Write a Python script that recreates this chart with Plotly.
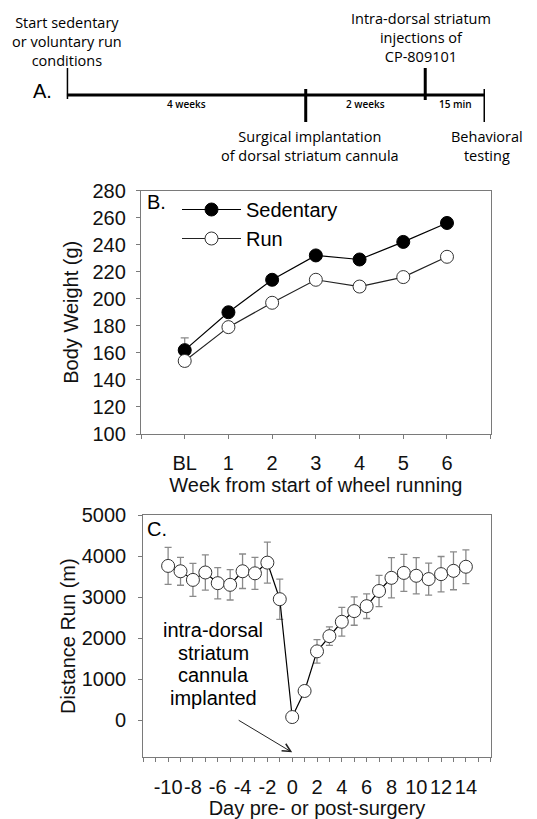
import plotly.graph_objects as go

# page body has an 8px margin, so the figure is drawn 8px in from the window edge
OFF = 8
W, H = 537 - OFF, 819 - OFF

# ---------------- data ----------------
# Panel A: experimental timeline (schematic units)
timeline_events = [
    "Start sedentary<br>or voluntary run<br>conditions",
    "Surgical implantation<br>of dorsal striatum cannula",
    "Intra-dorsal striatum<br>injections of<br>CP-809101",
    "Behavioral<br>testing",
]
timeline_pos = [0, 4, 6, 7]
interval_labels = ["4 weeks", "2 weeks", "15 min"]

# Panel B: body weight
week_labels = ["BL", "1", "2", "3", "4", "5", "6"]
week_pos = [0, 1, 2, 3, 4, 5, 6]
sed_mean = [162, 190, 214, 232, 229, 242, 256]
sed_err = [9, 3, 3, 3, 3, 3, 3]
run_mean = [154, 179, 197, 214, 209, 216, 231]
run_err = [4, 3, 3, 3, 3, 3, 3]

# Panel C: distance run per day
days = [-10, -9, -8, -7, -6, -5, -4, -3, -2, -1,
        0, 1, 2, 3, 4, 5, 6, 7, 8, 9, 10, 11, 12, 13, 14]
dist_mean = [3760, 3630, 3420, 3600, 3340, 3300, 3630, 3580, 3840, 2950,
             80, 715, 1680, 2050, 2400, 2660, 2780, 3150, 3470, 3590,
             3520, 3440, 3560, 3640, 3740]
dist_err = [450, 340, 400, 430, 380, 370, 420, 390, 500, 490,
            0, 60, 285, 225, 350, 345, 300, 380, 490, 450,
            440, 390, 430, 460, 410]
day_ticks = list(range(-12, 17))
day_ticktext = [str(d) if (d % 2 == 0 and -10 <= d <= 14) else "" for d in day_ticks]

# ---------------- styling ----------------
CHART_FONT = "Liberation Sans, Arial, sans-serif"
A_FONT = "Open Sans, Noto Sans, sans-serif"
FS = 20
AX = "#7a7a7a"


def px_x(p):
    return (p - OFF) / W


def px_y(p):
    return 1 - (p - OFF) / H


fig = go.Figure()

# ---- Panel A timeline ----
fig.add_trace(go.Scatter(
    x=[timeline_pos[0], timeline_pos[-1]], y=[-95, -95], mode="lines",
    line=dict(color="black", width=3), xaxis="x3", yaxis="y3",
    showlegend=False, hoverinfo="skip"))
tick_spans = [(-68, -99), (-89, -122), (-68, -100), (-89, -122)]
for p, (y0, y1) in zip(timeline_pos, tick_spans):
    fig.add_trace(go.Scatter(
        x=[p, p], y=[y0, y1], mode="lines",
        line=dict(color="black", width=3), xaxis="x3", yaxis="y3",
        showlegend=False, hoverinfo="skip"))

event_y = [-41, -146, -37, -146]
event_shift = [0, 4, -4, 2]
for txt, p, yy, sh in zip(timeline_events, timeline_pos, event_y, event_shift):
    fig.add_annotation(x=p, y=yy, xref="x3", yref="y3", text=txt,
                       showarrow=False, xanchor="center", yanchor="middle",
                       xshift=sh, align="center",
                       font=dict(family=A_FONT, size=14.5, color="black"))
for i, lab in enumerate(interval_labels):
    mid = (timeline_pos[i] + timeline_pos[i + 1]) / 2
    fig.add_annotation(x=mid, y=-104, xref="x3", yref="y3", text=lab,
                       showarrow=False, xanchor="center", yanchor="middle",
                       font=dict(family=A_FONT, size=10, color="black", weight=600))
fig.add_annotation(x=px_x(42), y=px_y(91), xref="paper", yref="paper",
                   text="A.", showarrow=False, xanchor="center", yanchor="middle",
                   font=dict(family=CHART_FONT, size=FS, color="black"))

# ---- Panel B ----
fig.add_trace(go.Scatter(
    x=week_pos, y=sed_mean, name="Sedentary", mode="lines+markers",
    error_y=dict(type="data", array=sed_err, color="#888", thickness=1.2, width=4),
    line=dict(color="black", width=1.2),
    marker=dict(size=13, color="black", line=dict(color="black", width=1)),
    xaxis="x", yaxis="y"))
fig.add_trace(go.Scatter(
    x=week_pos, y=run_mean, name="Run", mode="lines+markers",
    error_y=dict(type="data", array=run_err, color="#888", thickness=1.2, width=4),
    line=dict(color="#222", width=1.2),
    marker=dict(size=13, color="white", line=dict(color="#333", width=1)),
    xaxis="x", yaxis="y"))
fig.add_annotation(x=px_x(145), y=px_y(202), xref="paper", yref="paper",
                   text="B.", showarrow=False, xanchor="left", yanchor="middle",
                   font=dict(family=CHART_FONT, size=FS, color="black"))

# ---- Panel C ----
fig.add_trace(go.Scatter(
    x=days, y=dist_mean, mode="lines+markers", showlegend=False,
    error_y=dict(type="data", array=dist_err, color="#8a8a8a", thickness=1.3, width=3.5),
    line=dict(color="black", width=1.2),
    marker=dict(size=13, color="white", line=dict(color="#333", width=1)),
    xaxis="x2", yaxis="y2"))
fig.add_annotation(x=px_x(145), y=px_y(529), xref="paper", yref="paper",
                   text="C.", showarrow=False, xanchor="left", yanchor="middle",
                   font=dict(family=CHART_FONT, size=FS, color="black"))
ann_lines = ["intra-dorsal", "striatum", "cannula", "implanted"]
for i, t in enumerate(ann_lines):
    fig.add_annotation(x=px_x(213), y=px_y(630 + 22.7 * i), xref="paper", yref="paper",
                       text=t, showarrow=False, xanchor="center", yanchor="middle",
                       font=dict(family=CHART_FONT, size=FS, color="black"))
fig.add_annotation(x=0, y=-780, xref="x2", yref="y2", text="",
                   showarrow=True, arrowhead=5, arrowsize=1.6, arrowwidth=1,
                   arrowcolor="#222", ax=-55, ay=-33, axref="pixel", ayref="pixel")

axis_common = dict(showline=True, mirror=True, linecolor=AX, linewidth=1.3,
                   showgrid=False, zeroline=False, ticks="outside", ticklen=4,
                   tickcolor=AX, tickwidth=1, tickangle=0,
                   tickfont=dict(family=CHART_FONT, size=FS, color="#111"),
                   automargin=False)

fig.update_layout(
    width=W, height=H,
    margin=dict(l=0, r=0, t=0, b=0),
    paper_bgcolor="white", plot_bgcolor="white",
    font=dict(family=CHART_FONT, size=FS, color="#111"),
    showlegend=True,
    legend=dict(x=px_x(177), y=px_y(190), xanchor="left", yanchor="top",
                bgcolor="rgba(0,0,0,0)", itemwidth=59,
                font=dict(family=CHART_FONT, size=FS, color="black")),
    xaxis=dict(domain=[px_x(141), px_x(490.7)], range=[-1, 7],
               tickvals=[-1] + week_pos + [7], ticktext=[""] + week_labels + [""],
               anchor="y", ticklabelstandoff=7,
               title=dict(text="Week from start of wheel running", standoff=4,
                          font=dict(family=CHART_FONT, size=FS, color="#111")),
               **axis_common),
    yaxis=dict(domain=[px_y(434), px_y(190.5)], range=[100, 280], dtick=20,
               anchor="x", ticklabelstandoff=6,
               title=dict(text="Body Weight (g)", standoff=8,
                          font=dict(family=CHART_FONT, size=FS, color="#111")),
               **axis_common),
    xaxis2=dict(domain=[px_x(143.3), px_x(490.7)], range=[-12, 16],
                tickvals=day_ticks, ticktext=day_ticktext,
                anchor="y2", ticklabelstandoff=8,
                title=dict(text="Day pre- or post-surgery", standoff=2,
                           font=dict(family=CHART_FONT, size=FS, color="#111")),
                **axis_common),
    yaxis2=dict(domain=[px_y(757.3), px_y(515)], range=[-900, 5000],
                tickvals=[0, 1000, 2000, 3000, 4000, 5000],
                anchor="x2", ticklabelstandoff=8,
                title=dict(text="Distance Run (m)", standoff=0,
                           font=dict(family=CHART_FONT, size=FS, color="#111")),
                **axis_common),
    xaxis3=dict(domain=[px_x(66.7), px_x(485)], range=[0, 7], visible=False,
                anchor="y3", fixedrange=True),
    yaxis3=dict(domain=[px_y(170), 1], range=[-170, -OFF], visible=False,
                anchor="x3", fixedrange=True),
)

fig.write_html("out.html")
